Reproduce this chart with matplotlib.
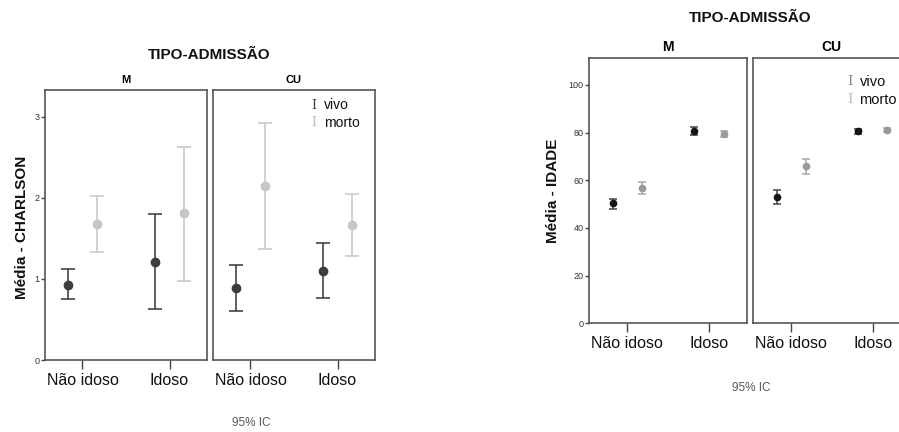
import matplotlib
matplotlib.use("Agg")
import matplotlib.pyplot as plt
import numpy as np

plt.rcParams['font.family'] = ['Liberation Sans', 'DejaVu Sans']

categorias = ["Não idoso", "Idoso"]
paineis = ["M", "CU"]
grupos = ["vivo", "morto"]

# CHARLSON: media, limite inferior, limite superior (painel -> grupo)
charlson_media = {"M": {"vivo": [0.93, 1.21], "morto": [1.68, 1.81]},
                  "CU": {"vivo": [0.89, 1.10], "morto": [2.14, 1.67]}}
charlson_inf = {"M": {"vivo": [0.75, 0.63], "morto": [1.33, 0.98]},
                "CU": {"vivo": [0.61, 0.76], "morto": [1.37, 1.28]}}
charlson_sup = {"M": {"vivo": [1.12, 1.80], "morto": [2.02, 2.63]},
                "CU": {"vivo": [1.17, 1.44], "morto": [2.92, 2.05]}}

# IDADE
idade_media = {"M": {"vivo": [50.3, 80.7], "morto": [56.9, 79.4]},
               "CU": {"vivo": [53.1, 80.6], "morto": [65.9, 81.3]}}
idade_inf = {"M": {"vivo": [48.1, 78.9], "morto": [54.4, 78.3]},
             "CU": {"vivo": [50.2, 79.6], "morto": [62.8, 80.4]}}
idade_sup = {"M": {"vivo": [52.3, 82.4], "morto": [59.3, 80.6]},
             "CU": {"vivo": [55.9, 81.4], "morto": [68.8, 82.1]}}


def desenha(fig, rects, media, inf, sup, ylim, yticks, cores_pt, cores_eb,
            cores_leg, xlim, desloc, ms, cap, leg_pos, leg_size):
    axes = []
    for k, (painel, r) in enumerate(zip(paineis, rects)):
        ax = fig.add_axes(r)
        x = np.arange(len(categorias))
        for j, g in enumerate(grupos):
            m = np.array(media[painel][g])
            lo = m - np.array(inf[painel][g])
            hi = np.array(sup[painel][g]) - m
            ax.errorbar(x + desloc[j], m, yerr=[lo, hi], fmt='o', ms=ms,
                        color=cores_pt[j], ecolor=cores_eb[j], elinewidth=1.1,
                        capsize=cap, capthick=1.1, zorder=3)
        ax.set_xlim(*xlim)
        ax.set_ylim(*ylim)
        ax.set_xticks(x)
        ax.set_xticklabels(categorias, fontsize=11.5, color='#111')
        ax.tick_params(axis='x', length=6.5, width=1, color='#444', pad=3)
        if k == 0:
            ax.set_yticks(yticks)
            ax.set_yticklabels([str(t) for t in yticks], fontsize=6.5, color='#333')
            ax.tick_params(axis='y', length=3, width=1, color='#444', pad=1)
        else:
            ax.set_yticks([])
        for s in ax.spines.values():
            s.set_color('#555')
            s.set_linewidth(1.2)
        axes.append(ax)
    # legenda no painel CU
    ax = axes[1]
    lx, ly, dy = leg_pos
    for j, g in enumerate(grupos):
        ax.text(lx, ly - j * dy, "I", transform=ax.transAxes, family='DejaVu Serif',
                fontsize=leg_size - 1, color=cores_leg[j], va='center', ha='center')
        ax.text(lx + 0.06, ly - j * dy, g, transform=ax.transAxes,
                fontsize=leg_size, color='#111', va='center', ha='left')
    return axes


fig = plt.figure(figsize=(8.99, 4.32), dpi=100)
W, H = 899, 432


def rect(x0, y0, x1, y1):
    return [x0 / W, 1 - y1 / H, (x1 - x0) / W, (y1 - y0) / H]


# grafico esquerdo - CHARLSON
esq = desenha(fig, [rect(45, 90, 207, 360), rect(213, 90, 375, 360)],
              charlson_media, charlson_inf, charlson_sup,
              ylim=(0, 3.33), yticks=[0, 1, 2, 3],
              cores_pt=['#3d3d3d', '#c6c6c6'], cores_eb=['#353535', '#c6c6c6'],
              cores_leg=['#444444', '#bbbbbb'],
              xlim=(-0.43, 1.43), desloc=[-0.165, 0.165], ms=6, cap=5,
              leg_pos=(0.623, 0.944, 0.066), leg_size=10)
fig.text(209 / W, 1 - 55 / H, "TIPO-ADMISSÃO", fontsize=11, fontweight='bold',
         ha='center', va='center', color='#111')
fig.text(126 / W, 1 - 80 / H, "M", fontsize=8, fontweight='bold', ha='center', va='center')
fig.text(294 / W, 1 - 80 / H, "CU", fontsize=8, fontweight='bold', ha='center', va='center')
fig.text(22 / W, 1 - 227 / H, "Média - CHARLSON", fontsize=11, fontweight='bold',
         rotation=90, ha='center', va='center', color='#111')
fig.text(251 / W, 1 - 423 / H, "95% IC", fontsize=8.5, color='#555',
         ha='center', va='center')

# grafico direito - IDADE
dir_ = desenha(fig, [rect(589.3, 58.3, 746.7, 323.3), rect(753.3, 58.3, 910.6, 323.3)],
               idade_media, idade_inf, idade_sup,
               ylim=(0, 111.2), yticks=[0, 20, 40, 60, 80, 100],
               cores_pt=['#151515', '#9a9a9a'], cores_eb=['#444444', '#a8a8a8'],
               cores_leg=['#888888', '#bbbbbb'],
               xlim=(-0.466, 1.464), desloc=[-0.18, 0.18], ms=4.5, cap=3,
               leg_pos=(0.615, 0.912, 0.069), leg_size=10.5)
fig.text(750 / W, 1 - 18 / H, "TIPO-ADMISSÃO", fontsize=11, fontweight='bold',
         ha='center', va='center', color='#111')
fig.text(668 / W, 1 - 46.7 / H, "M", fontsize=10, fontweight='bold', ha='center', va='center')
fig.text(831.7 / W, 1 - 46.7 / H, "CU", fontsize=10, fontweight='bold', ha='center', va='center')
fig.text(553 / W, 1 - 191 / H, "Média - IDADE", fontsize=11, fontweight='bold',
         rotation=90, ha='center', va='center', color='#111')
fig.text(751 / W, 1 - 388 / H, "95% IC", fontsize=8.5, color='#555',
         ha='center', va='center')

fig.savefig("out.png", dpi=100)
